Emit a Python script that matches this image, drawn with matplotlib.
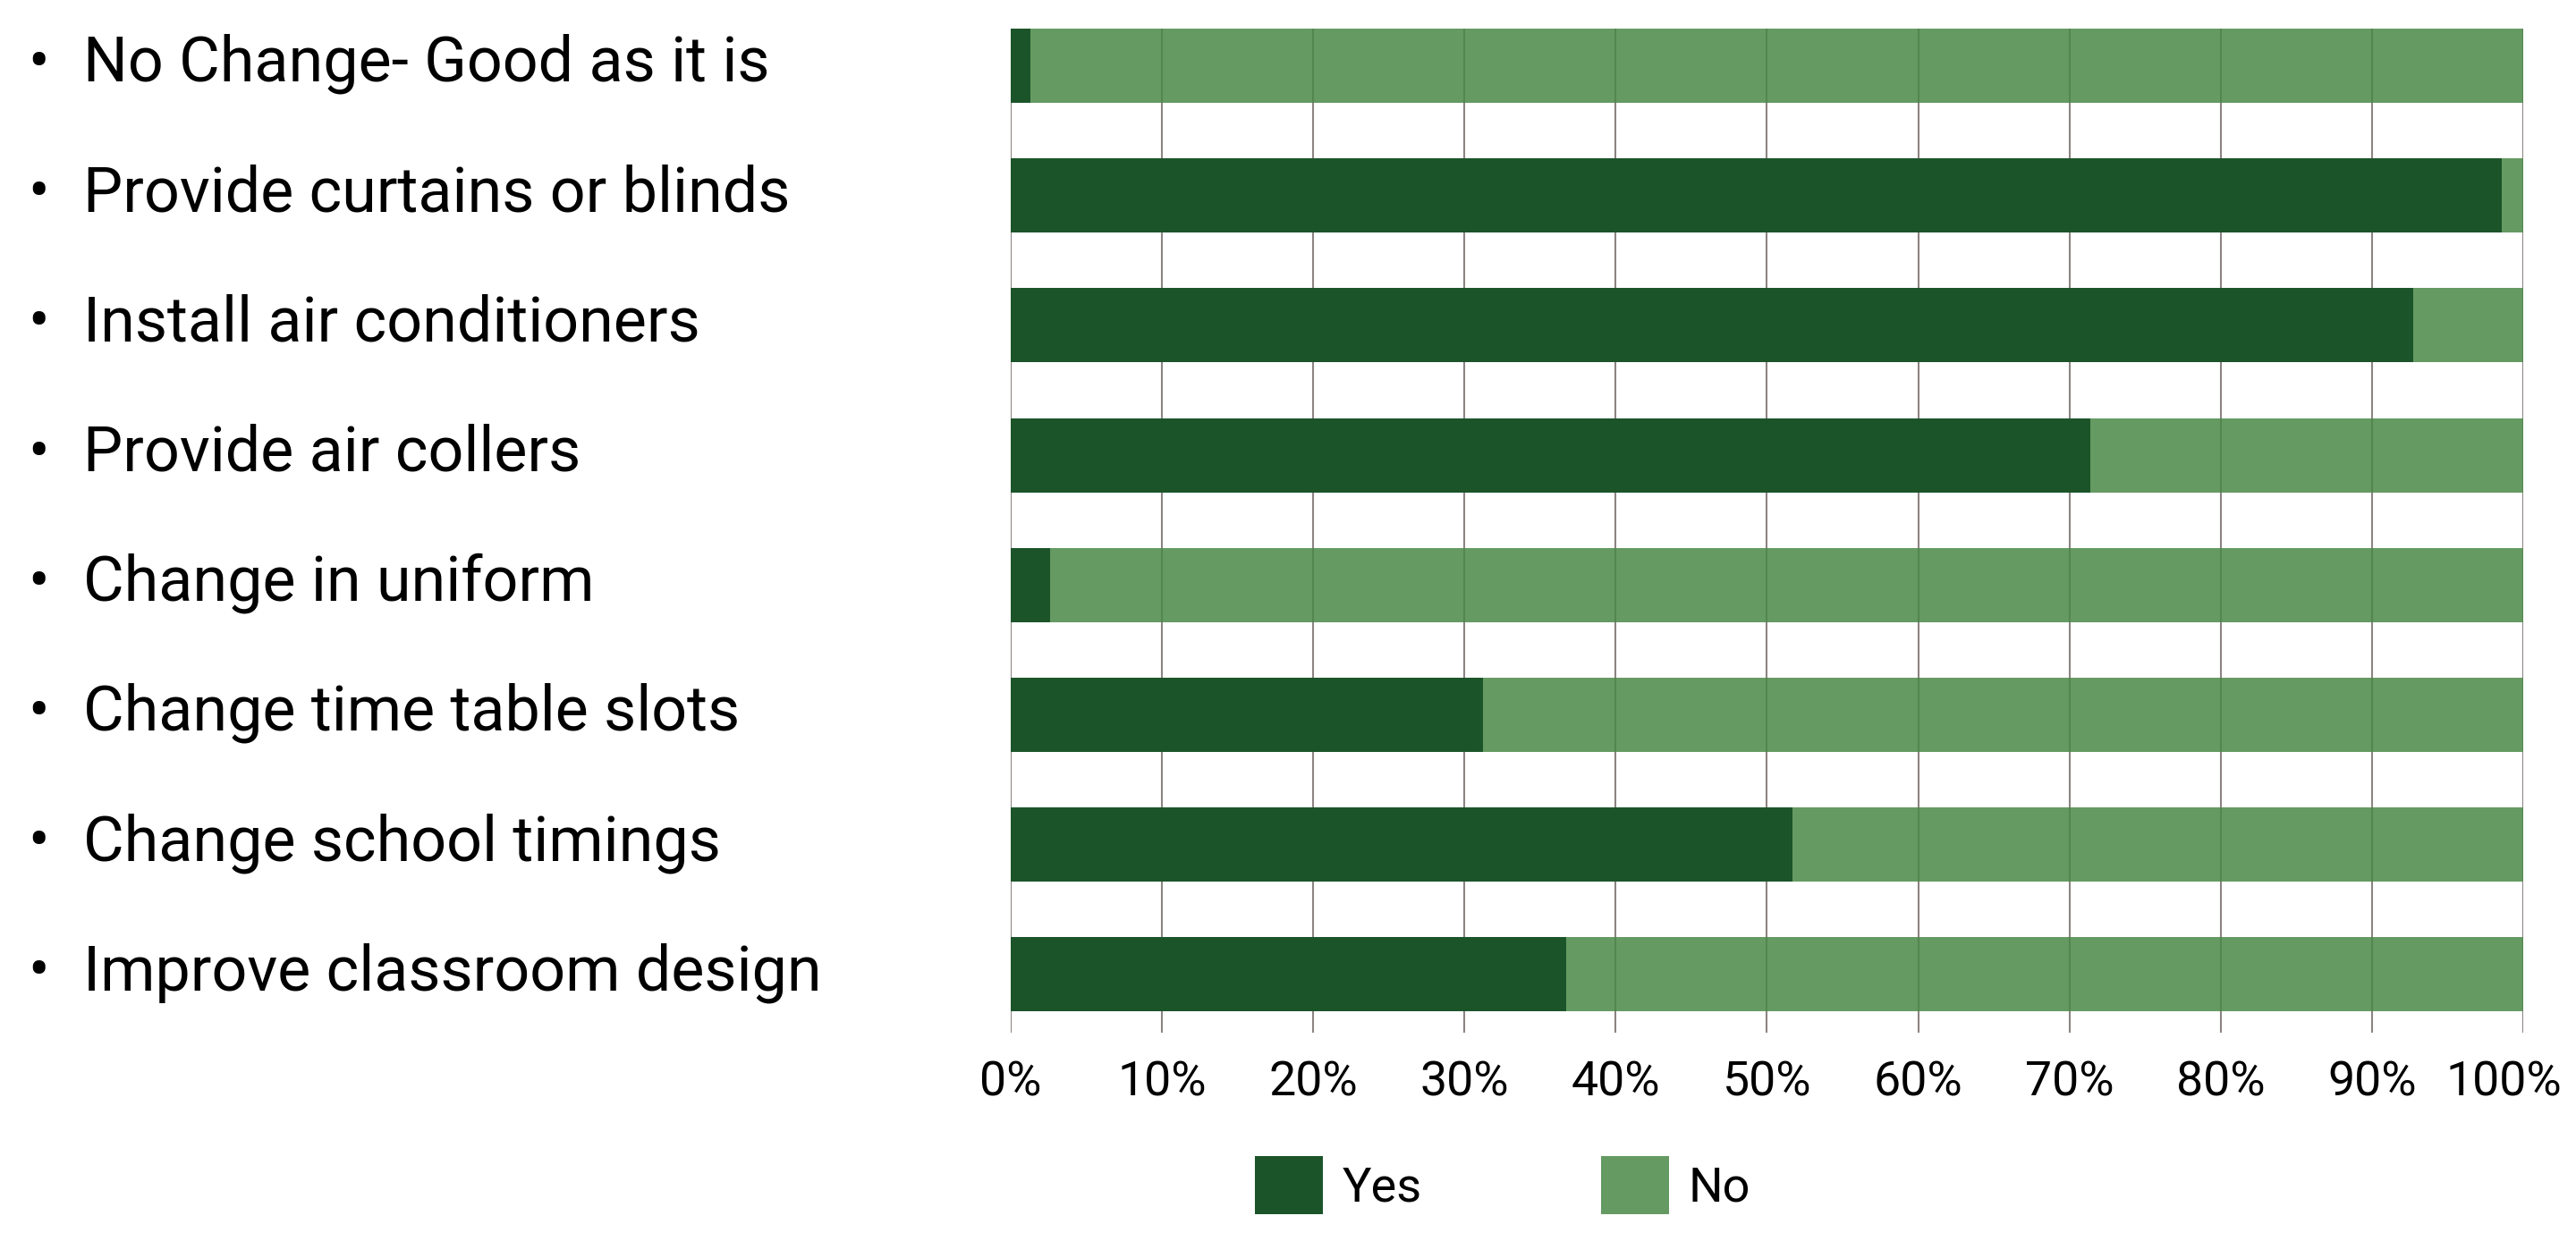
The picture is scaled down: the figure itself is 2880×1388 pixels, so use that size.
import matplotlib
matplotlib.use("Agg")
import matplotlib.pyplot as plt
from matplotlib.patches import Patch
from matplotlib.transforms import blended_transform_factory, ScaledTranslation

plt.rcParams['font.family'] = ['Roboto', 'DejaVu Sans']

categories = [
    "No Change- Good as it is",
    "Provide curtains or blinds",
    "Install air conditioners",
    "Provide air collers",
    "Change in uniform",
    "Change time table slots",
    "Change school timings",
    "Improve classroom design",
]
yes_pct = [1.3, 98.6, 92.7, 71.4, 2.6, 31.2, 51.7, 36.7]
no_pct = [100 - v for v in yes_pct]
series_names = ["Yes", "No"]
xticks = [0, 10, 20, 30, 40, 50, 60, 70, 80, 90, 100]
xtick_labels = [f"{t}%" for t in xticks]

YES_COLOR = "#1c542a"
NO_COLOR = "#4a8846"
NO_ALPHA = 0.85
GRID_COLOR = "#8c8482"

W, H, DPI = 2880, 1388, 200
fig = plt.figure(figsize=(W / DPI, H / DPI), dpi=DPI)
ax = fig.add_axes([1130 / W, 1 - 1155 / H, (2821 - 1130) / W, (1155 - 32) / H])

ypos = list(range(len(categories)))
bh = 0.5716
ax.barh(ypos, yes_pct, height=bh, color=YES_COLOR, zorder=2, linewidth=0)
ax.barh(ypos, no_pct, left=yes_pct, height=bh, color=NO_COLOR, alpha=NO_ALPHA,
        zorder=2, linewidth=0)

ax.set_xlim(0, 100)
ax.set_ylim(7.448, -0.2858)
ax.set_xticks(xticks)
ax.set_xticklabels(xtick_labels, fontsize=19.3, color="#000000")
ax.tick_params(axis='x', length=0, pad=11)
ax.set_yticks([])
for t in xticks:
    ax.axvline(t, color=GRID_COLOR, linewidth=0.75, zorder=1)
for s in ax.spines.values():
    s.set_visible(False)

# keep the last tick label inside the figure, as in the reference
last = ax.get_xticklabels()[-1]
last.set_transform(last.get_transform() + ScaledTranslation(-22 / DPI, 0, fig.dpi_scale_trans))

tr = blended_transform_factory(fig.transFigure, ax.transData)
for i, c in enumerate(categories):
    ax.text(31 / W, i + 0.12, "•", transform=tr, ha='left', va='baseline',
            fontsize=25.2, color="#000000")
    ax.text(93 / W, i + 0.12, c, transform=tr, ha='left', va='baseline',
            fontsize=25.2, color="#000000")

handles = [Patch(facecolor=YES_COLOR, edgecolor='none', label=series_names[0]),
           Patch(facecolor=NO_COLOR, alpha=NO_ALPHA, edgecolor='none', label=series_names[1])]
fig.legend(handles=handles, loc='center left', bbox_to_anchor=(1403 / W, 1 - 1325.5 / H),
           ncol=2, frameon=False, fontsize=19.5, handlelength=1.4, handleheight=1.46,
           handletextpad=0.4, columnspacing=3.7, borderpad=0, borderaxespad=0)

fig.savefig("out.png", dpi=DPI, facecolor='white')
